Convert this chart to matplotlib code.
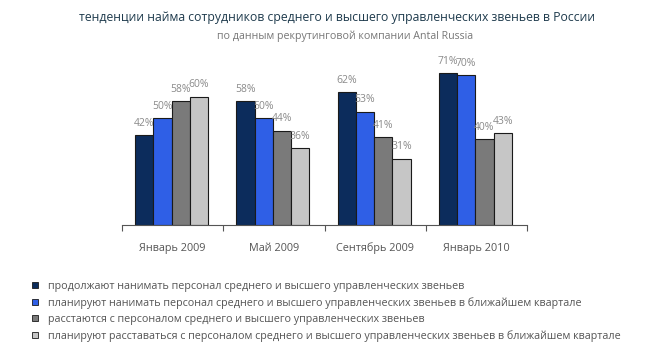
import numpy as np
import matplotlib.pyplot as plt
from matplotlib.patches import Patch

plt.rcParams['font.family'] = ['Open Sans', 'DejaVu Sans']

# данные
periods = ['Январь 2009', 'Май 2009', 'Сентябрь 2009', 'Январь 2010']
series = [
    'продолжают нанимать персонал среднего и высшего управленческих звеньев',
    'планируют нанимать персонал среднего и высшего управленческих звеньев в ближайшем квартале',
    'расстаются с персоналом среднего и высшего управленческих звеньев',
    'планируют расставаться с персоналом среднего и высшего управленческих звеньев в ближайшем квартале',
]
hire_now = [42, 58, 62, 71]
hire_plan = [50, 50, 53, 70]
fire_now = [58, 44, 41, 40]
fire_plan = [60, 36, 31, 43]
values = [hire_now, hire_plan, fire_now, fire_plan]
colors = ['#0c2c5c', '#2f5fe6', '#7a7a7a', '#c6c6c6']

fig = plt.figure(figsize=(6.49, 3.58), dpi=100)
ax = fig.add_axes([0.188, 0.3715, 0.624, 0.46])

x = np.arange(len(periods)) + 0.5
w = 0.18
for i, (vals, col) in enumerate(zip(values, colors)):
    pos = x + (i - 1.5) * w - 0.01
    ax.bar(pos, vals, w, color=col, edgecolor='#1a1a1a', linewidth=0.8)
    for p, v in zip(pos, vals):
        ax.text(p, v + 3.0, f'{v}%', ha='center', va='bottom',
                fontsize=7.5, color='#8a8a8a')

ax.set_xlim(0, 4)
ax.set_ylim(0, 77)
for s in ['top', 'right', 'left']:
    ax.spines[s].set_visible(False)
ax.spines['bottom'].set_color('#555555')
ax.set_yticks([])
ax.set_xticks(range(5))
ax.set_xticklabels([])
ax.tick_params(axis='x', length=4, color='#555555', direction='out')
for xi, lab in zip(x, periods):
    ax.text(xi, -0.14, lab, transform=ax.get_xaxis_transform(),
            ha='center', va='center', fontsize=7.8, color='#555555')

fig.text(0.52, 0.95, 'тенденции найма сотрудников среднего и высшего управленческих звеньев в России',
         ha='center', va='center', fontsize=8.8, color='#1f3b4d')
fig.text(0.532, 0.898, 'по данным рекрутинговой компании Antal Russia',
         ha='center', va='center', fontsize=7.7, color='#777777')

handles = [Patch(facecolor=c, edgecolor='#1a1a1a', linewidth=0.6) for c in colors]
fig.legend(handles, series, loc='upper left', bbox_to_anchor=(0.034, 0.243),
           frameon=False, fontsize=7.75, handlelength=0.55, handleheight=0.55,
           handletextpad=0.95, labelspacing=0.48, labelcolor='#555555')

fig.savefig('out.png', dpi=100)
